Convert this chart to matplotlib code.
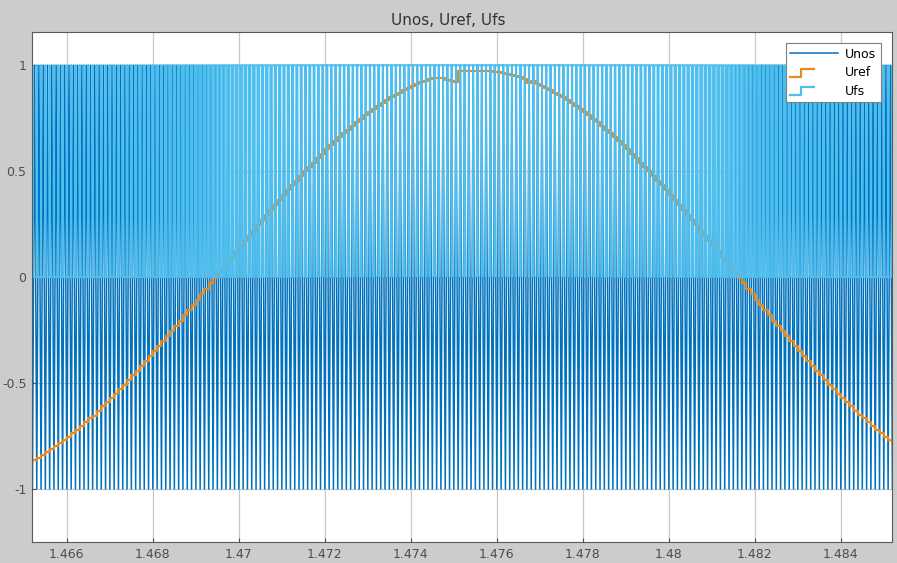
import matplotlib
matplotlib.use("Agg")
import matplotlib.pyplot as plt
from matplotlib.legend_handler import HandlerBase
from matplotlib.lines import Line2D

# reference samples (zero-order hold)
t_start = 1.4651
t_step = 0.0001          # sample time = carrier period (10 kHz)
uref = [
	-0.876, -0.864, -0.852, -0.840, -0.827, -0.813, -0.799, -0.784, -0.769, -0.753,
	-0.737, -0.720, -0.703, -0.685, -0.667, -0.655, -0.630, -0.610, -0.591, -0.570,
	-0.550, -0.529, -0.508, -0.486, -0.464, -0.442, -0.419, -0.396, -0.373, -0.350,
	-0.326, -0.302, -0.278, -0.254, -0.229, -0.205, -0.180, -0.156, -0.131, -0.106,
	-0.081, -0.055, -0.030, -0.005, 0.020, 0.045, 0.070, 0.095, 0.121, 0.145,
	0.170, 0.195, 0.220, 0.244, 0.268, 0.293, 0.316, 0.340, 0.364, 0.387,
	0.410, 0.433, 0.455, 0.477, 0.499, 0.520, 0.541, 0.562, 0.583, 0.603,
	0.622, 0.641, 0.660, 0.678, 0.696, 0.714, 0.731, 0.747, 0.763, 0.778,
	0.793, 0.808, 0.822, 0.835, 0.848, 0.860, 0.871, 0.882, 0.893, 0.902,
	0.912, 0.920, 0.928, 0.934, 0.938, 0.941, 0.940, 0.930, 0.925, 0.922,
	0.972, 0.973, 0.974, 0.975, 0.975, 0.975, 0.974, 0.972, 0.970, 0.967,
	0.963, 0.959, 0.954, 0.949, 0.943, 0.936, 0.915, 0.928, 0.912, 0.902,
	0.893, 0.882, 0.871, 0.860, 0.848, 0.835, 0.822, 0.808, 0.793, 0.778,
	0.763, 0.747, 0.731, 0.714, 0.696, 0.678, 0.660, 0.641, 0.622, 0.603,
	0.583, 0.562, 0.541, 0.520, 0.499, 0.477, 0.455, 0.433, 0.410, 0.387,
	0.364, 0.340, 0.316, 0.293, 0.268, 0.244, 0.220, 0.195, 0.170, 0.145,
	0.121, 0.095, 0.070, 0.045, 0.020, -0.005, -0.030, -0.055, -0.081, -0.106,
	-0.131, -0.156, -0.180, -0.205, -0.229, -0.254, -0.278, -0.302, -0.326, -0.350,
	-0.373, -0.396, -0.419, -0.442, -0.464, -0.486, -0.508, -0.529, -0.550, -0.570,
	-0.591, -0.610, -0.630, -0.649, -0.667, -0.685, -0.703, -0.720, -0.737, -0.753,
	-0.769, -0.784,
]
carrier_low = -1
carrier_high = 1

x_ticks = [1.466, 1.468, 1.47, 1.472, 1.474, 1.476, 1.478, 1.48, 1.482, 1.484]
x_labels = ["1.466", "1.468", "1.47", "1.472", "1.474", "1.476", "1.478", "1.48", "1.482", "1.484"]
y_ticks = [-1, -0.5, 0, 0.5, 1]
y_labels = ["-1", "-0.5", "0", "0.5", "1"]


def triangle_carrier(n, t0, T):
	# vertices of the triangular carrier (Unos)
	ts, vs = [], []
	for k in range(n + 1):
		ts += [t0 + k * T, t0 + k * T + T / 2]
		vs += [carrier_low, carrier_high]
	return ts, vs


def switching(u, t0, T):
	# Ufs = 1 while Uref is above the carrier
	ts, vs = [], []
	for k, val in enumerate(u):
		tk = t0 + k * T
		a = (val - carrier_low) / (carrier_high - carrier_low) * T / 2
		ts += [tk, tk + a, tk + T - a]
		vs += [1, 0, 1]
	return ts, vs


class StepHandler(HandlerBase):
	def create_artists(self, legend, orig, xdescent, ydescent, width, height, fontsize, trans):
		x0 = -xdescent
		y0 = -ydescent
		w = width * 0.5
		xs = [x0, x0 + w * 0.45, x0 + w * 0.45, x0 + w]
		ys = [y0 - height * 0.05, y0 - height * 0.05, y0 + height * 0.85, y0 + height * 0.85]
		line = Line2D(xs, ys, color=orig.get_color(), lw=1.6)
		line.set_transform(trans)
		return [line]


def main():
	fig = plt.figure(figsize=(8.97, 5.63), dpi=100, facecolor="#cccccc")
	ax = fig.add_axes([0.0357, 0.0373, 0.9587, 0.9059])
	ax.set_facecolor("white")

	t_ref = [t_start + k * t_step for k in range(len(uref))]
	t_nos, v_nos = triangle_carrier(len(uref), t_start, t_step)
	t_fs, v_fs = switching(uref, t_start, t_step)

	l1, = ax.plot(t_nos, v_nos, color="#0072BD", lw=1.1, label="Unos")
	l2, = ax.plot(t_ref, uref, drawstyle="steps-post", color="#E8891E", lw=1.6, label="Uref")
	l3, = ax.plot(t_fs, v_fs, drawstyle="steps-post", color="#4DBEEE", lw=1.4, label="Ufs")

	ax.set_xlim(1.46519, 1.48519)
	ax.set_ylim(-1.25, 1.157)
	ax.set_xticks(x_ticks)
	ax.set_xticklabels(x_labels)
	ax.set_yticks(y_ticks)
	ax.set_yticklabels(y_labels)
	ax.grid(True, color="#c8c8c8", lw=0.9)
	ax.set_axisbelow(True)
	ax.tick_params(colors="#4d4d4d", labelsize=9, length=3, direction="in", pad=4)
	for s in ax.spines.values():
		s.set_color("#5a5a5a")
		s.set_linewidth(0.8)

	fig.text(0.5, 0.963, "Unos, Uref, Ufs", ha="center", va="center", fontsize=11, color="#333333")

	leg = ax.legend(handles=[l1, l2, l3], loc="upper right", fontsize=9,
					handler_map={l2: StepHandler(), l3: StepHandler()},
					fancybox=False, framealpha=1, edgecolor="#7f7f7f",
					handlelength=3.8, borderaxespad=0.9, labelspacing=0.45,
					borderpad=0.35, handletextpad=0.6)
	leg.get_frame().set_linewidth(0.8)

	fig.savefig("out.png", dpi=100, facecolor=fig.get_facecolor())


if __name__ == '__main__':
	main()
